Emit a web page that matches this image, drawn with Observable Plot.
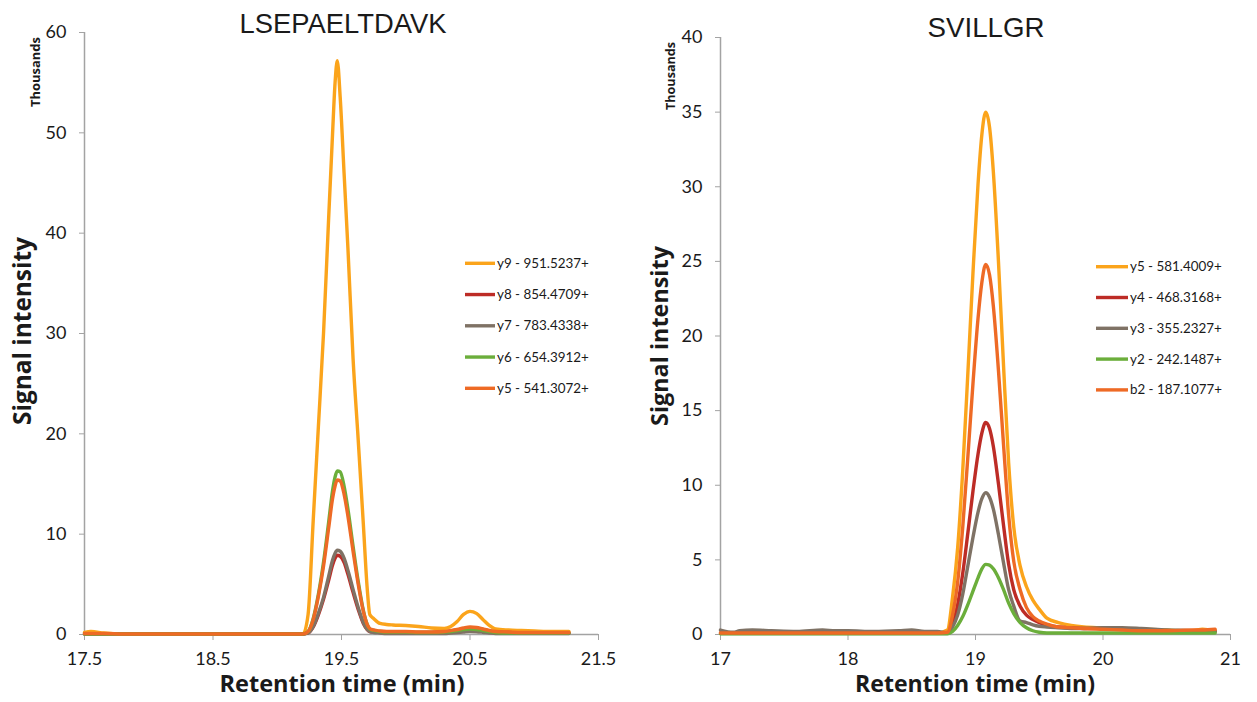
<!DOCTYPE html>
<html><head><meta charset="utf-8">
<script src="https://cdn.jsdelivr.net/npm/d3@7"></script>
<script src="https://cdn.jsdelivr.net/npm/@observablehq/plot@0.6"></script>
<style>
html,body{margin:0;padding:0;background:#fff;}
#wrap{position:relative;width:1257px;height:702px;overflow:hidden;background:#fff;}
#wrap > svg{position:absolute;top:0;}
</style></head><body><div id="wrap"></div>
<script>
// ---------- Left panel data (LSEPAELTDAVK) ----------
const leftTitle = "LSEPAELTDAVK";
const leftNames = ["y9 - 951.5237+", "y8 - 854.4709+", "y7 - 783.4338+", "y6 - 654.3912+", "y5 - 541.3072+"];
const leftXTicks = [17.5, 18.5, 19.5, 20.5, 21.5];
const leftYTicks = [0, 10, 20, 30, 40, 50, 60];
const leftTime = [17.5, 17.55, 17.65, 17.8, 18.0, 18.3, 18.6, 18.9, 19.1, 19.2, 19.24, 19.28, 19.32, 19.36, 19.40, 19.43, 19.45, 19.467, 19.49, 19.52, 19.55, 19.59, 19.63, 19.67, 19.70, 19.72, 19.75, 19.8, 19.85, 19.9, 20.0, 20.1, 20.2, 20.3, 20.35, 20.4, 20.45, 20.5, 20.55, 20.6, 20.65, 20.7, 20.8, 20.9, 21.0, 21.1, 21.27];
const leftY9 = [0.2,0.3,0.15,0.05,0.05,0.05,0.05,0.05,0.05,0.05, 2.0,11.4,20.7,30.0,41.5,49.8,55.0,57.2,53.5,46.0,38.5,27.5,19.4,11.0,4.6,2.0,1.6,1.1,1.0,0.95,0.9,0.8,0.65,0.6,0.8,1.3,2.0,2.3,2.1,1.5,0.9,0.55,0.45,0.4,0.35,0.3,0.3];
const leftY8 = [0.05,0.05,0.05,0.05,0.05,0.05,0.05,0.05,0.05,0.05, 0.15,0.75,1.95,3.5,5.4,6.9,7.6,7.9,7.8,7.2,6.0,4.2,2.5,1.1,0.5,0.3,0.25,0.2,0.2,0.2,0.2,0.2,0.2,0.25,0.35,0.45,0.55,0.65,0.6,0.5,0.35,0.25,0.2,0.15,0.15,0.15,0.15];
const leftY7 = [0.05,0.05,0.05,0.05,0.05,0.05,0.05,0.05,0.05,0.05, 0.15,0.8,2.1,3.7,5.8,7.4,8.1,8.4,8.3,7.6,6.4,4.5,2.7,1.2,0.5,0.3,0.2,0.15,0.1,0.1,0.1,0.1,0.1,0.1,0.15,0.2,0.25,0.3,0.28,0.22,0.15,0.1,0.1,0.1,0.1,0.1,0.1];
const leftY6 = [0.05,0.05,0.05,0.05,0.05,0.05,0.05,0.05,0.05,0.05, 0.3,1.6,4.0,7.2,11.2,14.3,15.7,16.3,16.2,14.8,12.5,8.8,5.3,2.4,1.0,0.55,0.4,0.3,0.25,0.25,0.25,0.2,0.2,0.25,0.3,0.4,0.5,0.55,0.5,0.4,0.3,0.2,0.15,0.15,0.15,0.15,0.15];
const leftY5 = [0.1,0.1,0.1,0.05,0.05,0.05,0.05,0.05,0.05,0.05, 0.3,1.5,3.8,6.8,10.6,13.5,14.8,15.4,15.3,14.0,11.8,8.3,5.0,2.3,1.0,0.6,0.45,0.35,0.3,0.3,0.3,0.25,0.25,0.3,0.4,0.5,0.65,0.75,0.7,0.55,0.4,0.3,0.25,0.2,0.2,0.2,0.2];

// ---------- Right panel data (SVILLGR) ----------
const rightTitle = "SVILLGR";
const rightNames = ["y5 - 581.4009+", "y4 - 468.3168+", "y3 - 355.2327+", "y2 - 242.1487+", "b2 - 187.1077+"];
const rightXTicks = [17, 18, 19, 20, 21];
const rightYTicks = [0, 5, 10, 15, 20, 25, 30, 35, 40];
const rightTime = [17.0, 17.1, 17.15, 17.25, 17.4, 17.6, 17.8, 17.9, 18.0, 18.2, 18.4, 18.5, 18.6, 18.7, 18.78, 18.82, 18.86, 18.90, 18.94, 18.98, 19.02, 19.05, 19.08, 19.11, 19.14, 19.18, 19.22, 19.26, 19.30, 19.35, 19.40, 19.45, 19.50, 19.56, 19.65, 19.75, 19.85, 20.0, 20.15, 20.3, 20.5, 20.7, 20.78, 20.88];
const rightY5 = [0.1,0.1,0.1,0.1,0.1,0.1,0.1,0.1,0.1,0.1,0.1,0.1,0.1,0.1, 0.3,2.5,5.8,11.0,17.5,24.2,30.2,33.5,35.0,34.0,31.0,25.0,18.0,11.5,7.2,4.6,3.2,2.3,1.7,1.1,0.8,0.6,0.5,0.45,0.4,0.35,0.3,0.25,0.35,0.25];
const rightY4 = [0.1,0.1,0.1,0.1,0.1,0.1,0.1,0.1,0.1,0.1,0.1,0.1,0.1,0.1, 0.1,0.7,2.0,4.1,6.8,9.6,12.1,13.5,14.2,13.8,12.6,10.1,7.3,4.7,3.0,1.9,1.3,1.0,0.8,0.65,0.5,0.45,0.4,0.4,0.35,0.3,0.25,0.2,0.2,0.2];
const rightY3 = [0.3,0.15,0.25,0.3,0.25,0.2,0.3,0.25,0.25,0.2,0.25,0.3,0.2,0.2, 0.1,0.5,1.3,2.7,4.6,6.5,8.2,9.1,9.5,9.2,8.4,6.7,4.8,3.0,1.9,0.9,0.8,0.65,0.55,0.5,0.45,0.4,0.4,0.45,0.45,0.4,0.3,0.25,0.2,0.2];
const rightY2 = [0.05,0.05,0.05,0.05,0.05,0.05,0.05,0.05,0.05,0.05,0.05,0.05,0.05,0.05, 0.05,0.2,0.6,1.2,2.0,2.9,3.8,4.4,4.7,4.65,4.4,3.8,3.0,2.1,1.4,0.8,0.45,0.25,0.15,0.1,0.1,0.1,0.1,0.1,0.1,0.1,0.1,0.1,0.1,0.1];
const rightB2 = [0.1,0.1,0.1,0.1,0.1,0.1,0.1,0.1,0.1,0.1,0.1,0.1,0.1,0.1, 0.15,1.3,3.5,7.2,11.9,16.8,21.2,23.6,24.8,24.1,22.0,17.7,12.7,8.0,4.9,3.0,1.8,1.2,0.9,0.7,0.5,0.45,0.4,0.35,0.3,0.25,0.25,0.3,0.3,0.35];

const seriesColors = ["#FBA41B", "#BD2C26", "#7F7265", "#6BAE3B", "#EE6A25"];
const axisColor = "#a3a3a3";
const textColor = "#1a1a1a";
const FONT = "Lato, 'Open Sans', sans-serif";

function toRows(times, seriesList, names) {
  const rows = [];
  seriesList.forEach((vals, i) => vals.forEach((v, j) => rows.push({t: times[j], v, s: names[i]})));
  return rows;
}

function panel(cfg) {
  const rows = toRows(cfg.times, cfg.series, cfg.names);
  const svg = Plot.plot({
    width: cfg.width, height: 702,
    marginLeft: cfg.mL, marginRight: cfg.mR, marginTop: cfg.mT, marginBottom: cfg.mB,
    style: {fontFamily: FONT, fontSize: "18px", color: textColor, background: "transparent", overflow: "visible"},
    x: {domain: cfg.xDomain, label: null},
    y: {domain: cfg.yDomain, label: null},
    color: {domain: cfg.names, range: seriesColors},
    marks: [
      Plot.ruleX([cfg.xDomain[0]], {stroke: axisColor, strokeWidth: 1.5}),
      Plot.ruleY([cfg.yDomain[0]], {stroke: axisColor, strokeWidth: 1.5}),
      Plot.axisX({ticks: cfg.xTicks, tickSize: 6, tickPadding: 12, stroke: axisColor, fill: textColor, label: null, tickFormat: d => String(d)}),
      Plot.axisY({ticks: cfg.yTicks, tickSize: 5, tickPadding: 13, stroke: axisColor, fill: textColor, label: null, tickFormat: d => String(d)}),
      Plot.line(rows, {x: "t", y: "v", z: "s", stroke: "s", strokeWidth: 3.4, curve: "monotone-x", strokeLinejoin: "round"})
    ]
  });
  svg.style.left = cfg.left + "px";
  return svg;
}

const wrap = document.getElementById("wrap");
wrap.appendChild(panel({
  left: 0, width: 628, mL: 84, mR: 30, mT: 32, mB: 68,
  times: leftTime, series: [leftY9, leftY8, leftY7, leftY6, leftY5], names: leftNames,
  xDomain: [17.5, 21.5], xTicks: leftXTicks, yDomain: [0, 60], yTicks: leftYTicks
}));
wrap.appendChild(panel({
  left: 628, width: 629, mL: 92, mR: 27, mT: 37, mB: 68,
  times: rightTime, series: [rightY5, rightY4, rightY3, rightY2, rightB2], names: rightNames,
  xDomain: [17, 21], xTicks: rightXTicks, yDomain: [0, 40], yTicks: rightYTicks
}));

// ---------- Overlay text: titles, axis titles, legends ----------
const ov = d3.select(wrap).append("svg")
  .attr("width", 1257).attr("height", 702)
  .style("left", "0px").style("pointer-events", "none")
  .style("font-family", FONT);

// add a text and scale its font size so that it spans the target width
function addText(x, y, txt, opts) {
  const t = ov.append("text").attr("x", x).attr("y", y).text(txt)
    .attr("fill", textColor).attr("text-anchor", opts.anchor || "middle")
    .attr("font-size", opts.size).attr("font-weight", opts.weight || "normal");
  if (opts.family) t.attr("font-family", opts.family);
  if (opts.rotate) t.attr("transform", `rotate(-90 ${x} ${y})`);
  if (opts.fit) {
    const w = t.node().getComputedTextLength();
    if (w > 0) t.attr("font-size", Math.min(opts.size * opts.fit / w, opts.size * 1.25));
  }
  return t;
}

const TITLE_FONT = "'Liberation Sans', Arial, sans-serif";
const BOLD_FONT = "'Open Sans', Lato, sans-serif";
// titles
addText(343, 33, leftTitle, {size: 26, family: TITLE_FONT, fit: 207});
addText(986, 37, rightTitle, {size: 26, family: TITLE_FONT, fit: 117});
// x axis titles
addText(342, 692, "Retention time (min)", {size: 22, weight: "bold", family: BOLD_FONT, fit: 245});
addText(975, 692, "Retention time (min)", {size: 22, weight: "bold", family: BOLD_FONT, fit: 240});
// y axis titles
addText(31, 331, "Signal intensity", {size: 22, weight: "bold", family: BOLD_FONT, rotate: true, fit: 188});
addText(668, 336, "Signal intensity", {size: 22, weight: "bold", family: BOLD_FONT, rotate: true, fit: 180});
// "Thousands"
addText(40, 72, "Thousands", {size: 12, weight: "bold", family: BOLD_FONT, rotate: true, fit: 70});
addText(675, 76, "Thousands", {size: 12, weight: "bold", family: BOLD_FONT, rotate: true, fit: 68});

function legend(names, x0, x1, y0, step) {
  names.forEach((n, i) => {
    const y = y0 + i * step;
    ov.append("line").attr("x1", x0).attr("x2", x1).attr("y1", y).attr("y2", y)
      .attr("stroke", seriesColors[i]).attr("stroke-width", 3.4);
    addText(x1 + 2, y + 4.5, n, {size: 13, anchor: "start", fit: 92});
  });
}
legend(leftNames, 465, 495, 263.3, 31.25);
legend(rightNames, 1096, 1128, 266.7, 30.8);
</script>
</body></html>
